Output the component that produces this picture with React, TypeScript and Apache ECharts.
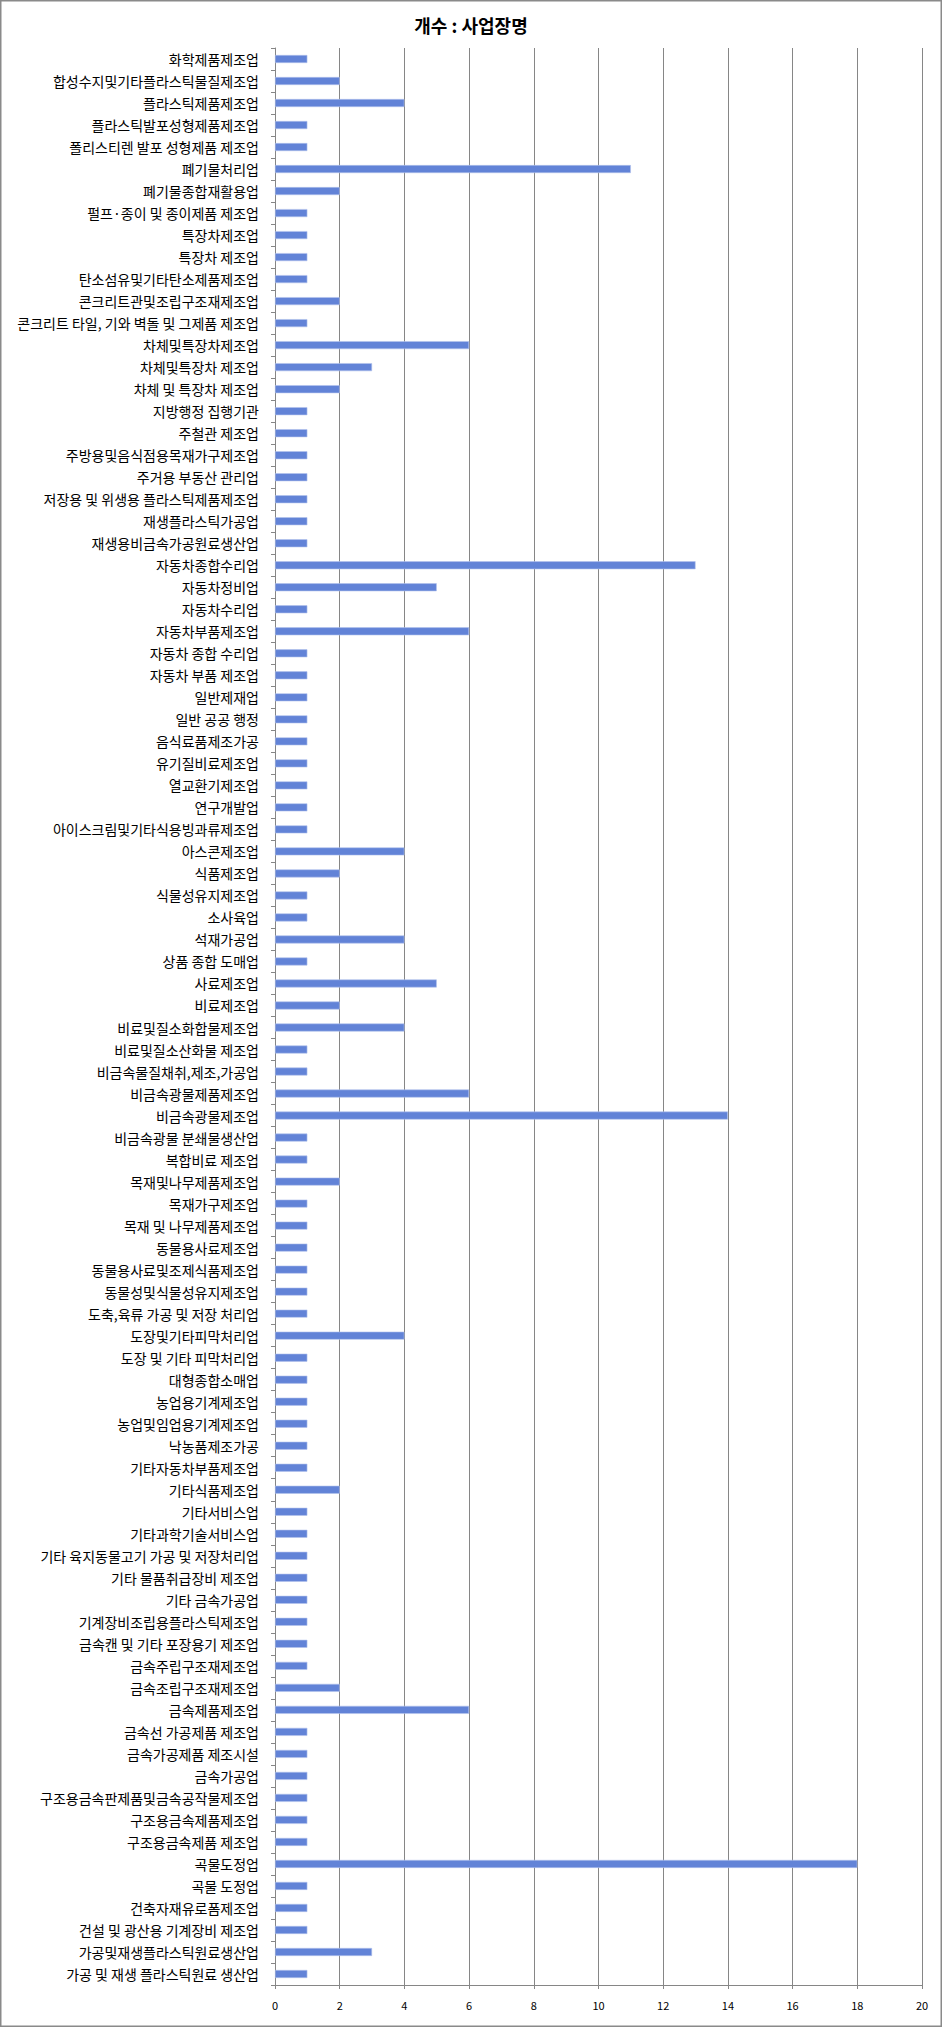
import { useEffect, useRef } from "react";
import * as echarts from "echarts";

const titleText = "개수 : 사업장명";

const categories: string[] = [
  "화학제품제조업",
  "합성수지및기타플라스틱물질제조업",
  "플라스틱제품제조업",
  "플라스틱발포성형제품제조업",
  "폴리스티렌 발포 성형제품 제조업",
  "폐기물처리업",
  "폐기물종합재활용업",
  "펄프·종이 및 종이제품 제조업",
  "특장차제조업",
  "특장차 제조업",
  "탄소섬유및기타탄소제품제조업",
  "콘크리트관및조립구조재제조업",
  "콘크리트 타일, 기와 벽돌 및 그제품 제조업",
  "차체및특장차제조업",
  "차체및특장차 제조업",
  "차체 및 특장차 제조업",
  "지방행정 집행기관",
  "주철관 제조업",
  "주방용및음식점용목재가구제조업",
  "주거용 부동산 관리업",
  "저장용 및 위생용 플라스틱제품제조업",
  "재생플라스틱가공업",
  "재생용비금속가공원료생산업",
  "자동차종합수리업",
  "자동차정비업",
  "자동차수리업",
  "자동차부품제조업",
  "자동차 종합 수리업",
  "자동차 부품 제조업",
  "일반제재업",
  "일반 공공 행정",
  "음식료품제조가공",
  "유기질비료제조업",
  "열교환기제조업",
  "연구개발업",
  "아이스크림및기타식용빙과류제조업",
  "아스콘제조업",
  "식품제조업",
  "식물성유지제조업",
  "소사육업",
  "석재가공업",
  "상품 종합 도매업",
  "사료제조업",
  "비료제조업",
  "비료및질소화합물제조업",
  "비료및질소산화물 제조업",
  "비금속물질채취,제조,가공업",
  "비금속광물제품제조업",
  "비금속광물제조업",
  "비금속광물 분쇄물생산업",
  "복합비료 제조업",
  "목재및나무제품제조업",
  "목재가구제조업",
  "목재 및 나무제품제조업",
  "동물용사료제조업",
  "동물용사료및조제식품제조업",
  "동물성및식물성유지제조업",
  "도축,육류 가공 및 저장 처리업",
  "도장및기타피막처리업",
  "도장 및 기타 피막처리업",
  "대형종합소매업",
  "농업용기계제조업",
  "농업및임업용기계제조업",
  "낙농품제조가공",
  "기타자동차부품제조업",
  "기타식품제조업",
  "기타서비스업",
  "기타과학기술서비스업",
  "기타 육지동물고기 가공 및 저장처리업",
  "기타 물품취급장비 제조업",
  "기타 금속가공업",
  "기계장비조립용플라스틱제조업",
  "금속캔 및 기타 포장용기 제조업",
  "금속주립구조재제조업",
  "금속조립구조재제조업",
  "금속제품제조업",
  "금속선 가공제품 제조업",
  "금속가공제품 제조시설",
  "금속가공업",
  "구조용금속판제품및금속공작물제조업",
  "구조용금속제품제조업",
  "구조용금속제품 제조업",
  "곡물도정업",
  "곡물 도정업",
  "건축자재유로폼제조업",
  "건설 및 광산용 기계장비 제조업",
  "가공및재생플라스틱원료생산업",
  "가공 및 재생 플라스틱원료 생산업",
];

const counts: number[] = [
  1, 2, 4, 1, 1, 11, 2, 1, 1, 1,
  1, 2, 1, 6, 3, 2, 1, 1, 1, 1,
  1, 1, 1, 13, 5, 1, 6, 1, 1, 1,
  1, 1, 1, 1, 1, 1, 4, 2, 1, 1,
  4, 1, 5, 2, 4, 1, 1, 6, 14, 1,
  1, 2, 1, 1, 1, 1, 1, 1, 4, 1,
  1, 1, 1, 1, 1, 2, 1, 1, 1, 1,
  1, 1, 1, 1, 2, 6, 1, 1, 1, 1,
  1, 1, 18, 1, 1, 1, 3, 1,
];

const xMin = 0;
const xMax = 20;
const xStep = 2;

const font = '"Noto Sans CJK KR", "Noto Sans", sans-serif';

export default function App() {
  const chartRef = useRef<HTMLDivElement>(null);

  useEffect(() => {
    document.body.style.margin = "0";
    if (!chartRef.current) return;
    const chart = echarts.init(chartRef.current, null, { renderer: "svg" });

    chart.setOption({
      animation: false,
      backgroundColor: "#fff",
      title: {
        text: titleText,
        left: "center",
        top: 11,
        textStyle: { fontFamily: font, fontSize: 18, fontWeight: "bold", color: "#000" },
      },
      graphic: [
        {
          type: "rect",
          shape: { x: 0.75, y: 0.75, width: 940.5, height: 2025.5 },
          style: { fill: "none", stroke: "#8a8a8a", lineWidth: 1.5 },
          silent: true,
        },
      ],
      grid: { left: 275, right: 20, top: 48, bottom: 42 },
      xAxis: {
        type: "value",
        min: xMin,
        max: xMax,
        interval: xStep,
        axisLine: { show: true, lineStyle: { color: "#868686", width: 1 } },
        axisTick: { show: true, length: 4, lineStyle: { color: "#868686" } },
        axisLabel: { fontFamily: font, fontSize: 11, color: "#000", margin: 14 },
        splitLine: { show: true, lineStyle: { color: "#868686", width: 1 } },
      },
      yAxis: {
        type: "category",
        data: categories,
        inverse: true,
        axisLine: { show: true, lineStyle: { color: "#868686", width: 1 } },
        axisTick: { show: true, length: 4, interval: 0, lineStyle: { color: "#868686" } },
        axisLabel: { fontFamily: font, fontSize: 14, color: "#000", margin: 16, interval: 0 },
      },
      series: [
        {
          type: "bar",
          data: counts,
          barWidth: 8,
          itemStyle: { color: "#6283d7", borderColor: "#b3c3ec", borderWidth: 0.6 },
        },
      ],
    });

    return () => {
      chart.dispose();
    };
  }, []);

  return <div ref={chartRef} style={{ width: "942px", height: "2027px" }} />;
}
